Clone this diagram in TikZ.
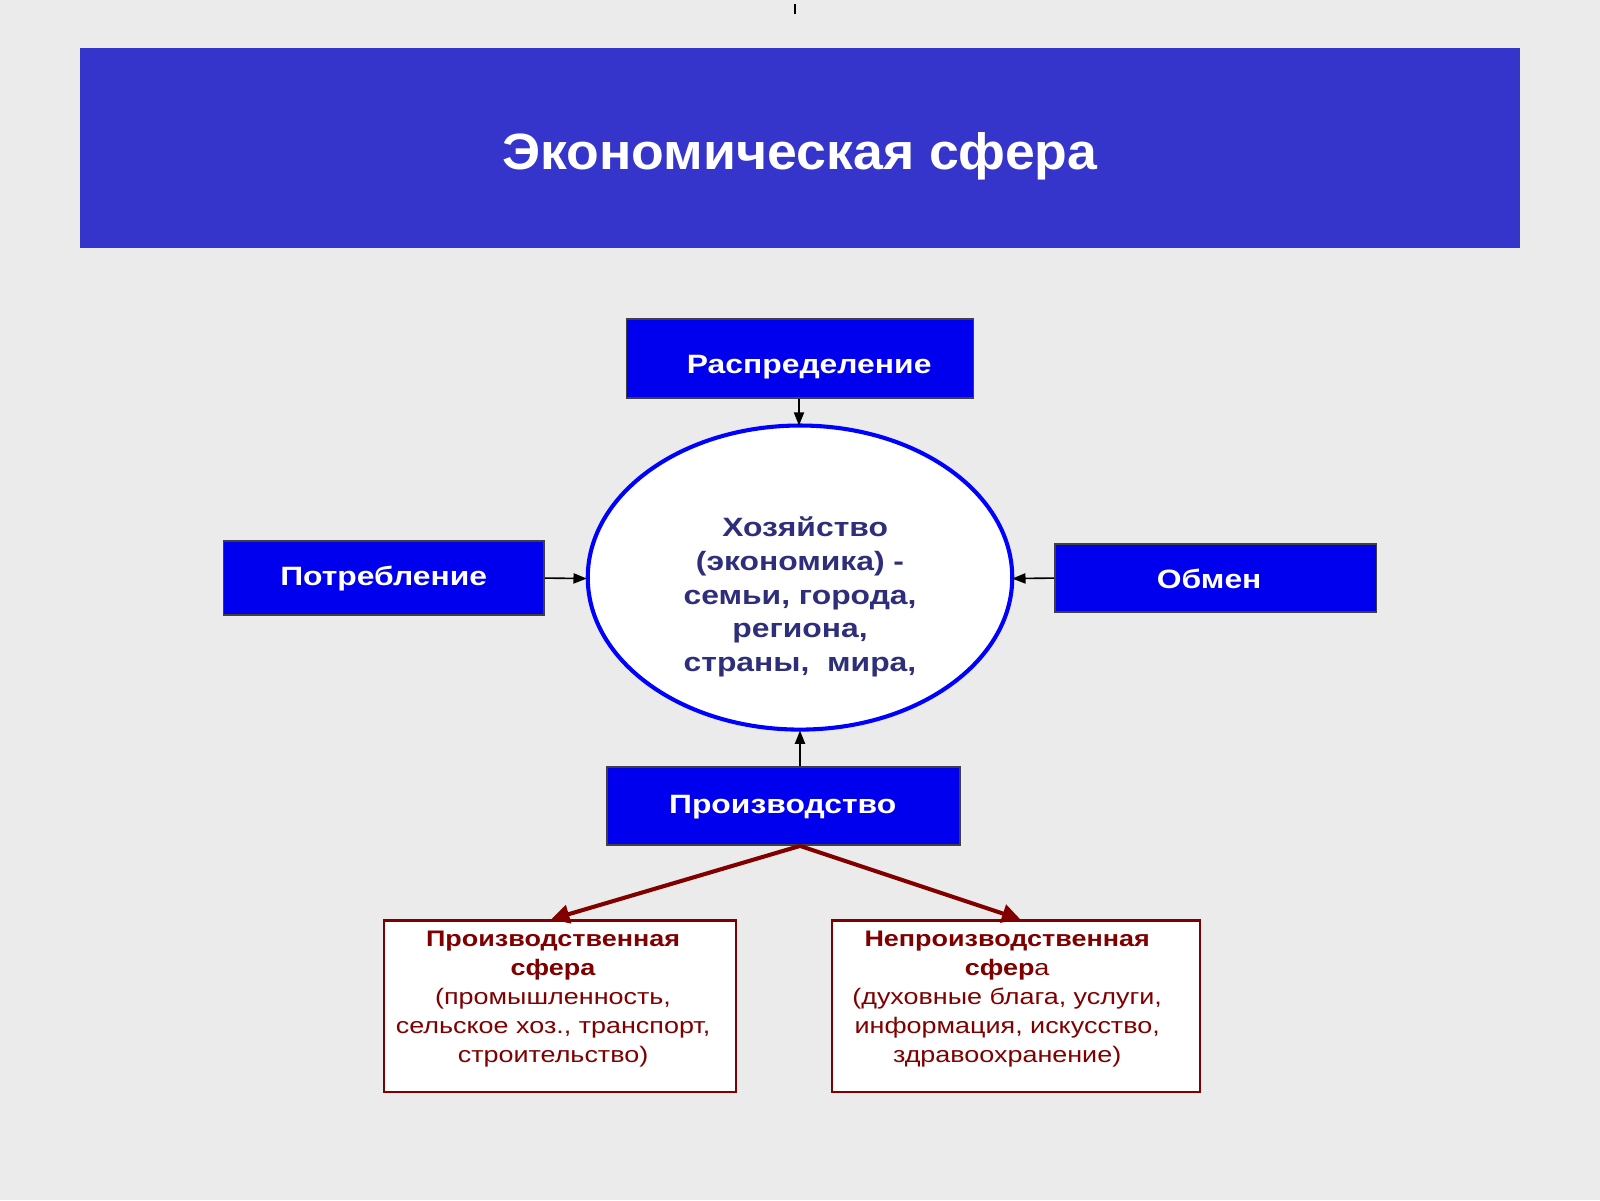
\documentclass[tikz,border=0pt]{standalone}
\usepackage{fontspec}
\setmainfont{Liberation Sans}[FakeStretch=1.2]
\newfontfamily\titlefont{Liberation Sans}[FakeStretch=1.05]
\usetikzlibrary{arrows.meta,shapes.geometric}
\definecolor{bg}{HTML}{EBEBEB}
\definecolor{banner}{HTML}{3535CC}
\definecolor{boxblue}{HTML}{0000EE}
\definecolor{navy}{HTML}{2E2E7A}
\definecolor{dred}{HTML}{800000}
\begin{document}
\begin{tikzpicture}[x=1pt,y=-1pt,
 bbox/.style={draw=black!75,line width=1.8pt,fill=boxblue,text=white,font=\fontsize{26}{31}\selectfont\bfseries,inner sep=0pt},
 rbox/.style={draw=dred,line width=2.2pt,fill=white,text=dred,font=\fontsize{22}{28.5}\selectfont,align=center,inner sep=0pt},
 blk/.style={-{Triangle[length=13pt,width=10pt]},line width=1.6pt,black},
 red/.style={-{Triangle[length=18pt,width=18pt]},line width=4pt,dred}]
\fill[bg] (0,0) rectangle (1568,1176);
\useasboundingbox (0,0) rectangle (1568,1176);
\draw[line width=1.2pt] (779,4) -- (779,14);
\node[fill=banner,minimum width=1412pt,minimum height=196pt,inner sep=0pt] (t) at (784,145) {};
\node[text=white,font=\titlefont\fontsize{50}{60}\selectfont\bfseries] at (784,153) {Экономическая сфера};
\node[bbox,minimum width=340pt,minimum height=77pt] (r) at (784,351.5) {};
\node[text=white,font=\fontsize{26}{31}\selectfont\bfseries] at (793,360) {Распределение};
\node[draw=blue,line width=4pt,fill=white,ellipse,minimum width=416pt,minimum height=298pt,inner sep=0pt] (e) at (784,566) {};
\node[text=navy,align=center,font=\fontsize{26}{33}\selectfont\bfseries] at (784,585) {\hspace*{10pt}Хозяйство\\(экономика) -\\семьи, города,\\региона,\\страны,\ \ мира,};
\node[bbox,minimum width=314pt,minimum height=73pt] (p) at (376,566.5) {};
\node[text=white,font=\fontsize{26}{31}\selectfont\bfseries] at (376,567) {Потребление};
\node[bbox,minimum width=315pt,minimum height=67pt] (o) at (1191.5,566.5) {};
\node[text=white,font=\fontsize{26}{31}\selectfont\bfseries] at (1185,567) {Обмен};
\node[bbox,minimum width=346pt,minimum height=76pt] (pr) at (768,790) {};
\node[text=white,font=\fontsize{26}{31}\selectfont\bfseries] at (767,791) {Производство};
\node[rbox,minimum width=345pt,minimum height=168pt] (l) at (548.5,986) {};
\node[text=dred,align=center,font=\fontsize{22}{28.5}\selectfont] at (542,979) {\textbf{Производственная}\\\textbf{сфера}\\(промышленность,\\сельское хоз., транспорт,\\строительство)};
\node[rbox,minimum width=361pt,minimum height=168pt] (rr) at (995.5,986) {};
\node[text=dred,align=center,font=\fontsize{22}{28.5}\selectfont] at (987,979) {\textbf{Непроизводственная}\\\textbf{сфер}а\\(духовные блага, услуги,\\информация, искусство,\\здравоохранение)};
\draw[blk] (r.south -| 783,0) -- (783,417);
\draw[blk] (p.east) -- (575,567);
\draw[blk] (o.west) -- (992,567);
\draw[blk] (pr.north -| 784,0) -- (784,716);
\coordinate (top) at (784,829);
\draw[red] (top) -- (540,901);
\draw[red] (top) -- (1000,901);
\end{tikzpicture}
\end{document}
